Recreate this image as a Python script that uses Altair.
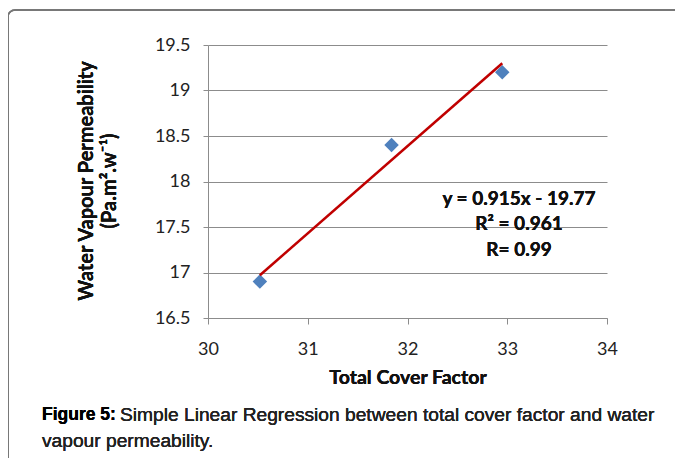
import altair as alt
import pandas as pd

# data
cover_factor = [30.52, 31.84, 32.95]
permeability = [16.90, 18.40, 19.20]
fit_x = [30.52, 32.95]
fit_y = [16.97, 19.30]
x_ticks = [30, 31, 32, 33, 34]
y_ticks = [16.5, 17, 17.5, 18, 18.5, 19, 19.5]
annotation = ["y = 0.915x - 19.77", "R\u00b2 = 0.961", "R= 0.99"]

pts = pd.DataFrame({"x": cover_factor, "y": permeability})
fit = pd.DataFrame({"x": fit_x, "y": fit_y})

W, H = 399, 273
FONT = "Lato"
CAP = "Liberation Sans"

xs = alt.Scale(domain=[30, 34], nice=False, zero=False)
ys = alt.Scale(domain=[16.5, 19.5], nice=False, zero=False)

x_axis = alt.Axis(values=x_ticks, grid=False, title=None, format="~g", domainColor="#8c8c8c",
                  tickColor="#8c8c8c", tickSize=6, labelFont=FONT, labelFontSize=18,
                  labelColor="#222", labelPadding=16, labelFlush=False)
y_axis = alt.Axis(values=y_ticks, grid=True, gridColor="#8c8c8c", title=None, format="~g",
                  domainColor="#8c8c8c", tickColor="#8c8c8c", tickSize=5, labelFont=FONT,
                  labelFontSize=18, labelColor="#222", labelPadding=13, labelFlush=False)

base = alt.Chart(pts)

frame = alt.Chart(pts).mark_rect(fillOpacity=0, stroke="#777", strokeWidth=1.5,
                                  cornerRadius=7, clip=False).encode(
    x=alt.value(-200), x2=alt.value(490), y=alt.value(-35), y2=alt.value(470))

points = base.mark_point(shape="diamond", filled=True, color="#4F81BD", size=210,
                         opacity=1).encode(
    x=alt.X("x:Q", scale=xs, axis=x_axis),
    y=alt.Y("y:Q", scale=ys, axis=y_axis))

line = alt.Chart(fit).mark_line(color="#C00000", strokeWidth=2.5).encode(
    x=alt.X("x:Q", scale=xs), y=alt.Y("y:Q", scale=ys))

def txt(s, x, y, size=16, weight="bold", angle=0, align="center", font=FONT, color="#111"):
    return alt.Chart(pts).mark_text(text=s, fontSize=size, fontWeight=weight, angle=angle,
                                    align=align, baseline="middle", font=font, color=color,
                                    clip=False).encode(x=alt.value(x), y=alt.value(y))

ann = [txt(annotation[0], 311, 154, size=19), txt(annotation[1], 311, 179, size=19),
       txt(annotation[2], 311, 205, size=19)]
xtitle = txt("Total Cover Factor", 200, 333, size=19.5)
ytitle = [txt("Water Vapour Permeability", -121, 136, size=20, angle=270),
          txt("(Pa.m\u00b2.w\u207b\u00b9)", -98, 136, size=20, angle=270)]
cap = [txt("Figure 5:", -166, 370, size=17.5, weight=700, align="left", font=CAP, color="#000"),
       txt("Simple Linear Regression between total cover factor and water", -88, 370,
           size=19.2, weight=400, align="left", font=CAP, color="#222"),
       txt("vapour permeability.", -166, 396, size=19.2, weight=400, align="left",
           font=CAP, color="#222")]

chart = alt.layer(frame, points, line, *ann, xtitle, *ytitle, *cap).properties(
    width=W, height=H,
    autosize=alt.AutoSizeParams(type="none"),
    padding={"left": 200, "top": 37, "right": 68, "bottom": 140},
).configure_view(stroke=None)

chart.save("out.html", embed_options={"renderer": "svg", "actions": False})
